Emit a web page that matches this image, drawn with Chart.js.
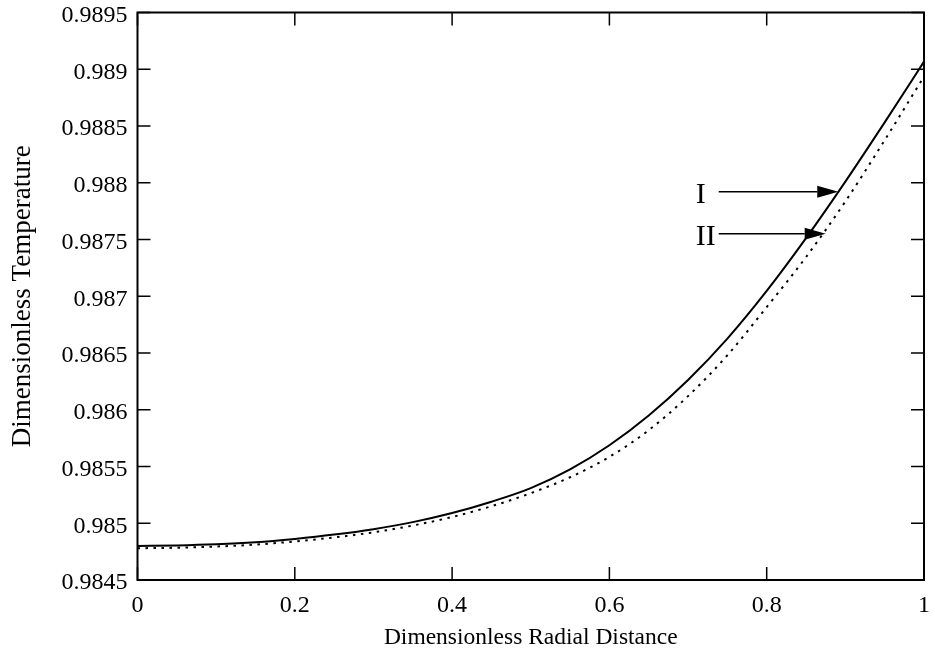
<!DOCTYPE html>
<html>
<head>
<meta charset="utf-8">
<title>Dimensionless Temperature</title>
<script src="https://cdn.jsdelivr.net/npm/chart.js@4/dist/chart.umd.min.js"></script>
<style>
    html, body { margin: 0; padding: 0; background: #fff; }
    #wrap { width: 935px; height: 658px; }
</style>
</head>
<body>
<div id="wrap"><canvas id="tempChart"></canvas></div>
<script>
// values
const radialDistance = [0, 0.05, 0.1, 0.15, 0.2, 0.25, 0.3, 0.35, 0.4, 0.45, 0.5,
    0.55, 0.6, 0.65, 0.7, 0.75, 0.8, 0.85, 0.9, 0.95, 1.0];
const tempCurveI = [0.984800, 0.984804, 0.984814, 0.984832, 0.984862, 0.984900,
    0.984948, 0.985010, 0.985090, 0.985190, 0.985310, 0.985475, 0.985687,
    0.985949, 0.986262, 0.986627, 0.987047, 0.987512, 0.988010, 0.988532, 0.989067];
const tempCurveII = [0.984780, 0.984784, 0.984795, 0.984812, 0.984840, 0.984875,
    0.984920, 0.984980, 0.985055, 0.985150, 0.985265, 0.985405, 0.985585,
    0.985820, 0.986120, 0.986480, 0.986905, 0.987345, 0.987835, 0.988375, 0.988936];
const xTickValues = [0, 0.2, 0.4, 0.6, 0.8, 1];
const yTickValues = [0.9845, 0.985, 0.9855, 0.986, 0.9865, 0.987, 0.9875, 0.988, 0.9885, 0.989, 0.9895];

// curve labels with arrows (data coordinates)
const curveLabels = ['I', 'II'];
const arrowTailX = [0.739, 0.739];
const arrowTipX = [0.891, 0.875];
const arrowY = [0.98792, 0.98755];

const serif = '"Liberation Serif", "DejaVu Serif", serif';

function toPoints(xs, ys) {
    return xs.map(function(x, i) { return { x: x, y: ys[i] }; });
}

// frame, inward ticks on all four sides, and the I / II arrows
const framePlugin = {
    id: 'frame',
    afterDatasetsDraw: function(chart) {
        const ctx = chart.ctx;
        const area = chart.chartArea;
        const xs = chart.scales.x;
        const ys = chart.scales.y;
        const tick = 13;

        ctx.save();
        ctx.strokeStyle = '#000';
        ctx.lineWidth = 1.5;
        ctx.beginPath();
        xTickValues.forEach(function(v) {
            const px = xs.getPixelForValue(v);
            ctx.moveTo(px, area.bottom);
            ctx.lineTo(px, area.bottom - tick);
            ctx.moveTo(px, area.top);
            ctx.lineTo(px, area.top + tick);
        });
        yTickValues.forEach(function(v) {
            const py = ys.getPixelForValue(v);
            ctx.moveTo(area.left, py);
            ctx.lineTo(area.left + tick, py);
            ctx.moveTo(area.right, py);
            ctx.lineTo(area.right - tick, py);
        });
        ctx.stroke();

        ctx.lineWidth = 2;
        ctx.strokeRect(area.left, area.top, area.right - area.left, area.bottom - area.top);

        // arrows
        ctx.fillStyle = '#000';
        ctx.lineWidth = 1.5;
        curveLabels.forEach(function(label, i) {
            const x0 = xs.getPixelForValue(arrowTailX[i]);
            const x1 = xs.getPixelForValue(arrowTipX[i]);
            const y = ys.getPixelForValue(arrowY[i]);
            const head = 21;
            ctx.beginPath();
            ctx.moveTo(x0, y);
            ctx.lineTo(x1 - head, y);
            ctx.stroke();
            ctx.beginPath();
            ctx.moveTo(x1, y);
            ctx.lineTo(x1 - head, y - 6);
            ctx.lineTo(x1 - head, y + 6);
            ctx.closePath();
            ctx.fill();

            ctx.font = '30px ' + serif;
            ctx.textAlign = 'left';
            ctx.textBaseline = 'middle';
            ctx.fillText(label, x0 - 23, y + 3);
        });
        ctx.restore();
    }
};

const ctx = document.getElementById('tempChart').getContext('2d');
new Chart(ctx, {
    type: 'line',
    data: {
        datasets: [{
            label: 'I',
            data: toPoints(radialDistance, tempCurveI),
            borderColor: '#000',
            borderWidth: 2,
            pointRadius: 0,
            cubicInterpolationMode: 'monotone'
        }, {
            label: 'II',
            data: toPoints(radialDistance, tempCurveII),
            borderColor: '#000',
            borderWidth: 2,
            borderDash: [2.5, 5.5],
            pointRadius: 0,
            cubicInterpolationMode: 'monotone'
        }]
    },
    options: {
        responsive: true,
        maintainAspectRatio: false,
        animation: false,
        layout: {
            padding: { top: 12.5, right: 11, left: 0, bottom: 0 }
        },
        plugins: {
            legend: { display: false },
            tooltip: { enabled: false }
        },
        scales: {
            x: {
                type: 'linear',
                min: 0,
                max: 1,
                afterBuildTicks: function(scale) {
                    scale.ticks = xTickValues.map(function(v) { return { value: v }; });
                },
                afterFit: function(scale) {
                    scale.height = 78;
                    scale.paddingLeft = 0;
                    scale.paddingRight = 0;
                },
                grid: { display: false, drawTicks: false },
                border: { display: false },
                ticks: {
                    color: '#000',
                    padding: 14,
                    maxRotation: 0,
                    font: { family: serif, size: 24, lineHeight: 1 },
                    callback: function(value) { return String(value); }
                },
                title: {
                    display: true,
                    text: 'Dimensionless Radial Distance',
                    color: '#000',
                    padding: { top: 0, bottom: 6 },
                    font: { family: serif, size: 23.5, lineHeight: 1.2 }
                }
            },
            y: {
                type: 'linear',
                min: 0.9845,
                max: 0.9895,
                afterBuildTicks: function(scale) {
                    scale.ticks = yTickValues.map(function(v) { return { value: v }; });
                },
                afterFit: function(scale) {
                    scale.width = 137.5;
                    scale.paddingTop = 0;
                    scale.paddingBottom = 0;
                },
                grid: { display: false, drawTicks: false },
                border: { display: false },
                ticks: {
                    color: '#000',
                    padding: 10,
                    labelOffset: 3,
                    font: { family: serif, size: 24, lineHeight: 1 },
                    callback: function(value) { return String(value); }
                },
                title: {
                    display: true,
                    text: 'Dimensionless Temperature',
                    color: '#000',
                    padding: { top: 7, bottom: 0 },
                    font: { family: serif, size: 27, lineHeight: 1.2 }
                }
            }
        }
    },
    plugins: [framePlugin]
});
</script>
</body>
</html>
